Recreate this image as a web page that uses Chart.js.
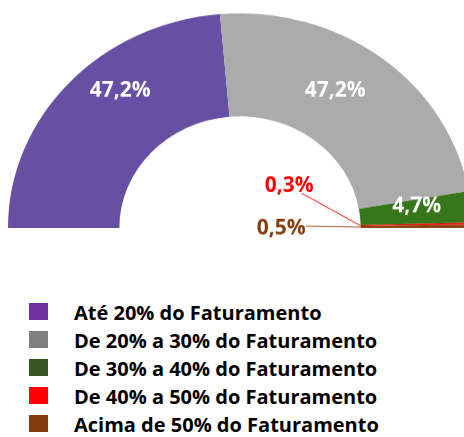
<!DOCTYPE html>
<html lang="pt-BR">
<head>
<meta charset="utf-8">
<script src="https://cdn.jsdelivr.net/npm/chart.js@4/dist/chart.umd.min.js"></script>
<style>
    html, body { margin: 0; padding: 0; background: #fff; }
    body { width: 464px; height: 437px; overflow: hidden; position: relative; font-family: 'Open Sans', sans-serif; }
    /* o grafico original e levemente achatado na vertical */
    #grafico { position: absolute; left: 8px; top: -4px; width: 464px; height: 252px; transform: scaleY(0.925); transform-origin: 50% 232px; }
    #legenda { position: absolute; left: 29px; top: 298px; list-style: none; margin: 0; padding: 0; }
    #legenda li { height: 28px; display: flex; align-items: center; font-weight: 700; font-size: 20px; color: #000; white-space: nowrap; }
    #legenda .caixa { width: 19px; height: 17px; margin-right: 26px; position: relative; top: -1px; }
</style>
</head>
<body>
<div id="grafico"><canvas id="rosca"></canvas></div>
<ul id="legenda"></ul>
<script>
const categorias = [
    'Até 20% do Faturamento',
    'De 20% a 30% do Faturamento',
    'De 30% a 40% do Faturamento',
    'De 40% a 50% do Faturamento',
    'Acima de 50% do Faturamento'
];
const percentuais = [47.2, 47.2, 4.7, 0.3, 0.5];
const coresFatias = ['#6750A4', '#ABABAB', '#38761D', '#FF0000', '#8B4513'];
const coresLegenda = ['#7030A0', '#808080', '#375623', '#FF0000', '#843C0C'];
const coresRotulos = ['#FFFFFF', '#FFFFFF', '#FFFFFF', '#FF0000', '#843C0C'];

const ESCALA_Y = 0.925;

function formata(v) {
    return v.toFixed(1).replace('.', ',') + '%';
}

const rotulosPlugin = {
    id: 'rotulosFatias',
    afterDatasetsDraw(chart, args, opts) {
        const { ctx } = chart;
        const meta = chart.getDatasetMeta(0);

        ctx.save();
        ctx.font = 'bold 21px "Open Sans"';
        ctx.textAlign = 'center';
        ctx.textBaseline = 'middle';

        const escreve = (texto, x, y, cor) => {
            ctx.save();
            ctx.translate(x, y);
            ctx.scale(1, 1 / ESCALA_Y);
            ctx.fillStyle = cor;
            ctx.fillText(texto, 0, 1);
            ctx.restore();
        };

        meta.data.forEach((arc, i) => {
            const { x, y, startAngle, endAngle, innerRadius, outerRadius } =
                arc.getProps(['x', 'y', 'startAngle', 'endAngle', 'innerRadius', 'outerRadius'], true);
            const meio = (startAngle + endAngle) / 2;
            const aj = opts.ajustes[i];
            const texto = formata(percentuais[i]);

            if (aj.chamada) {
                const ax = x + innerRadius * Math.cos(meio);
                const ay = y + innerRadius * Math.sin(meio);
                const tx = ax + aj.dx;
                const ty = ay + aj.dy / ESCALA_Y;
                ctx.strokeStyle = aj.linha;
                ctx.lineWidth = 1;
                ctx.beginPath();
                ctx.moveTo(ax, ay);
                ctx.lineTo(tx + aj.lx, ty + aj.ly / ESCALA_Y);
                ctx.stroke();
                escreve(texto, tx, ty, coresRotulos[i]);
            } else {
                const ang = meio + aj.giro * Math.PI / 180;
                const r = (innerRadius + outerRadius) / 2 + aj.raio;
                escreve(texto, x + r * Math.cos(ang), y + r * Math.sin(ang), coresRotulos[i]);
            }
        });

        ctx.restore();
    }
};

function montaLegenda() {
    const ul = document.getElementById('legenda');
    categorias.forEach((nome, i) => {
        const li = document.createElement('li');
        const caixa = document.createElement('span');
        caixa.className = 'caixa';
        caixa.style.background = coresLegenda[i];
        li.appendChild(caixa);
        li.appendChild(document.createTextNode(nome));
        ul.appendChild(li);
    });
}

function criaGrafico() {
    const ctx = document.getElementById('rosca').getContext('2d');

    return new Chart(ctx, {
        type: 'doughnut',
        data: {
            labels: categorias,
            datasets: [{
                data: percentuais,
                backgroundColor: coresFatias,
                borderWidth: 0,
                hoverOffset: 0
            }]
        },
        options: {
            responsive: true,
            maintainAspectRatio: false,
            animation: false,
            rotation: -90,
            circumference: 180,
            cutout: '52%',
            layout: { padding: { bottom: 20 } },
            events: [],
            plugins: {
                legend: { display: false },
                tooltip: { enabled: false },
                rotulosFatias: {
                    ajustes: [
                        { giro: 8.7, raio: 15 },
                        { giro: -5.1, raio: 1 },
                        { giro: -2.3, raio: 2 },
                        { chamada: true, dx: -71.5, dy: -41, lx: 12.5, ly: 8.5, linha: '#FF0000' },
                        { chamada: true, dx: -79.5, dy: 0, lx: 24.5, ly: -1, linha: '#A0522D' }
                    ]
                }
            }
        },
        plugins: [rotulosPlugin]
    });
}

montaLegenda();
criaGrafico();
</script>
</body>
</html>
